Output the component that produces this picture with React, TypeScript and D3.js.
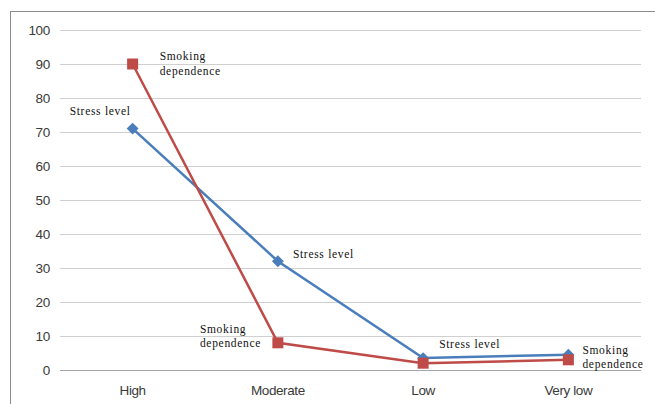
import { useEffect, useRef } from 'react';
import * as d3 from 'd3';

const categories = ['High', 'Moderate', 'Low', 'Very low'];
const stressLevel = [71, 32, 3.5, 4.5];
const smokingDependence = [90, 8, 2, 3];
const yTicks = [0, 10, 20, 30, 40, 50, 60, 70, 80, 90, 100];

// which point carries which data label
const stressLabels = ['Stress level', 'Stress level', 'Stress level', ''];
const smokingLabels = ['Smoking dependence', 'Smoking dependence', '', 'Smoking dependence'];

const WIDTH = 655;
const HEIGHT = 404;
const BLUE = '#4a7ebb';
const RED = '#be4b48';

const App = () => {
  const svgRef = useRef<SVGSVGElement>(null);

  useEffect(() => {
    if (!svgRef.current) return;
    const svg = d3.select(svgRef.current);
    svg.selectAll('*').remove();

    const margin = { top: 30, right: 14, bottom: 34, left: 60 };
    const innerWidth = WIDTH - margin.left - margin.right;
    const innerHeight = HEIGHT - margin.top - margin.bottom;

    // outer chart frame (runs off the right and bottom edge)
    svg.append('rect')
      .attr('x', 10.5)
      .attr('y', 11.5)
      .attr('width', WIDTH)
      .attr('height', HEIGHT)
      .attr('fill', '#fff')
      .attr('stroke', '#8c8c8c')
      .attr('stroke-width', 1);

    const g = svg.append('g').attr('transform', `translate(${margin.left},${margin.top})`);

    const x = d3.scaleBand<string>().domain(categories).range([0, innerWidth]);
    const y = d3.scaleLinear().domain([0, 100]).range([innerHeight, 0]);
    const cx = (c: string) => (x(c) ?? 0) + x.bandwidth() / 2;

    // gridlines
    g.selectAll('line.grid')
      .data(yTicks)
      .join('line')
      .attr('class', 'grid')
      .attr('x1', 0)
      .attr('x2', innerWidth)
      .attr('y1', (d) => Math.round(y(d)) + 0.5)
      .attr('y2', (d) => Math.round(y(d)) + 0.5)
      .attr('stroke', (d) => (d === 0 ? '#a6a6a6' : '#d0d0d0'))
      .attr('stroke-width', 1.2);

    const tickFont = 'Liberation Sans, Arial, sans-serif';

    // y tick labels
    g.selectAll('text.ytick')
      .data(yTicks)
      .join('text')
      .attr('class', 'ytick')
      .attr('x', -10)
      .attr('y', (d) => y(d))
      .attr('dy', '0.36em')
      .attr('text-anchor', 'end')
      .attr('font-family', tickFont)
      .attr('font-size', 13.5)
      .attr('letter-spacing', -0.3)
      .attr('fill', '#3a3a3a')
      .text((d) => d);

    // x tick labels
    g.selectAll('text.xtick')
      .data(categories)
      .join('text')
      .attr('class', 'xtick')
      .attr('x', (d) => cx(d))
      .attr('y', innerHeight + 25)
      .attr('text-anchor', 'middle')
      .attr('font-family', tickFont)
      .attr('font-size', 13.5)
      .attr('letter-spacing', -0.4)
      .attr('fill', '#3a3a3a')
      .text((d) => d);

    const line = d3.line<number>()
      .x((_, i) => cx(categories[i]))
      .y((d) => y(d));

    g.append('path')
      .datum(stressLevel)
      .attr('d', line)
      .attr('fill', 'none')
      .attr('stroke', BLUE)
      .attr('stroke-width', 2.5);

    g.append('path')
      .datum(smokingDependence)
      .attr('d', line)
      .attr('fill', 'none')
      .attr('stroke', RED)
      .attr('stroke-width', 2.5);

    // diamond markers
    g.selectAll('path.diamond')
      .data(stressLevel)
      .join('path')
      .attr('class', 'diamond')
      .attr('transform', (d, i) => `translate(${cx(categories[i])},${y(d)})`)
      .attr('d', d3.symbol(d3.symbolDiamond2, 90)())
      .attr('fill', BLUE);

    // square markers
    g.selectAll('rect.square')
      .data(smokingDependence)
      .join('rect')
      .attr('class', 'square')
      .attr('x', (_, i) => cx(categories[i]) - 5.5)
      .attr('y', (d) => y(d) - 5.5)
      .attr('width', 11)
      .attr('height', 11)
      .attr('fill', RED);

    // data labels
    const labelFont = 'Liberation Serif, Times New Roman, serif';
    const stressOffsets = [[-63, -14], [15, -3], [16, -10], [0, 0]];
    const smokingOffsets = [[27, -4], [-78, -10], [0, 0], [14, -6]];

    stressLevel.forEach((v, i) => {
      if (!stressLabels[i]) return;
      g.append('text')
        .attr('x', cx(categories[i]) + stressOffsets[i][0])
        .attr('y', y(v) + stressOffsets[i][1])
        .attr('font-family', labelFont)
        .attr('font-size', 11.5)
        .attr('letter-spacing', 0.7)
        .attr('fill', '#111')
        .text(stressLabels[i]);
    });

    smokingDependence.forEach((v, i) => {
      if (!smokingLabels[i]) return;
      const [first, ...rest] = smokingLabels[i].split(' ');
      const t = g.append('text')
        .attr('x', cx(categories[i]) + smokingOffsets[i][0])
        .attr('y', y(v) + smokingOffsets[i][1])
        .attr('font-family', labelFont)
        .attr('font-size', 11.5)
        .attr('letter-spacing', 0.7)
        .attr('fill', '#111');
      t.append('tspan').text(first);
      t.append('tspan')
        .attr('x', cx(categories[i]) + smokingOffsets[i][0])
        .attr('dy', 14.5)
        .text(rest.join(' '));
    });
  }, []);

  return (
    <div style={{ position: 'absolute', left: 0, top: 0 }}>
      <svg ref={svgRef} width={WIDTH} height={HEIGHT} style={{ display: 'block', background: '#fff' }} />
    </div>
  );
};

export default App;
